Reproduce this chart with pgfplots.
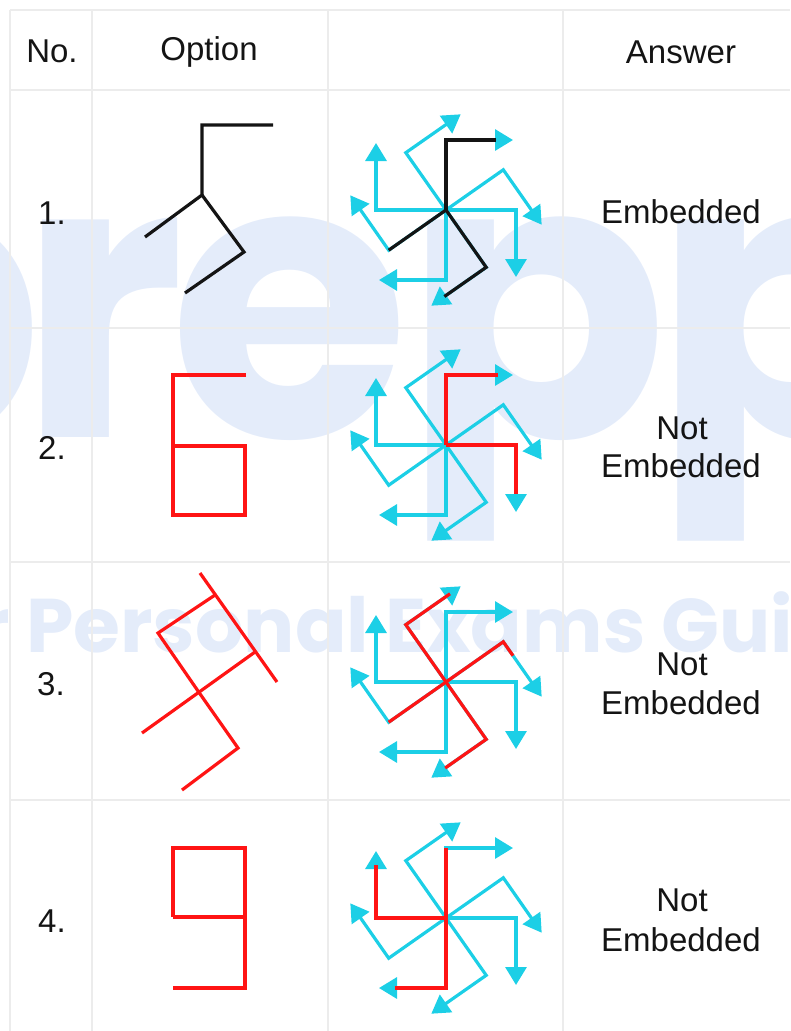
\documentclass[border=0pt]{standalone}
\usepackage{pgfplots}
\pgfplotsset{compat=1.18}
\usepackage{fontspec}
\setmainfont{Liberation Sans}
\newfontfamily\wmfont{Poppins}
\usetikzlibrary{arrows.meta}
\definecolor{cy}{HTML}{1CCFE6}
\definecolor{rd}{HTML}{FF1414}
\definecolor{bk}{HTML}{141414}
\definecolor{wm}{HTML}{E4ECFA}
\definecolor{gl}{HTML}{ECECEC}
\begin{document}
\begin{tikzpicture}
\begin{axis}[
  scale only axis, width=790pt, height=1031pt,
  xmin=0, xmax=790, ymin=0, ymax=1031, y dir=reverse,
  axis lines=none, xtick=\empty, ytick=\empty, clip=true,
  every axis plot/.append style={line width=3.2pt, line join=miter, mark=none},
  arr/.style={-{Triangle[length=18pt,width=21pt]}},
]
% full-size frame (invisible)
\path (axis cs:0,0) rectangle (axis cs:790,1031);
% watermark
\node[wm, font=\wmfont\bfseries\fontsize{390}{400}\selectfont, anchor=base west, inner sep=0pt] at (axis cs:-222,437) {p};
\node[wm, font=\wmfont\bfseries\fontsize{390}{400}\selectfont, anchor=base west, inner sep=0pt] at (axis cs:18,437) {r};
\node[wm, font=\wmfont\bfseries\fontsize{390}{400}\selectfont, anchor=base west, inner sep=0pt] at (axis cs:169,437) {e};
\node[wm, font=\wmfont\bfseries\fontsize{390}{400}\selectfont, anchor=base west, inner sep=0pt] at (axis cs:403,437) {p};
\node[wm, font=\wmfont\bfseries\fontsize{390}{400}\selectfont, anchor=base west, inner sep=0pt] at (axis cs:653,437) {p};
\node[wm, font=\wmfont\bfseries\fontsize{76}{80}\selectfont, anchor=base east, inner sep=0pt] at (axis cs:10,652) {Your};
\node[wm, font=\wmfont\bfseries\fontsize{76}{80}\selectfont, anchor=base west, inner sep=0pt] at (axis cs:26,652) {Personal Exams Guide};
% grid lines
\draw[gl, line width=1.3pt] (axis cs:10,10) -- (axis cs:790,10);
\draw[gl, line width=1.3pt] (axis cs:10,90) -- (axis cs:790,90);
\draw[gl, line width=1.3pt] (axis cs:10,328) -- (axis cs:790,328);
\draw[gl, line width=1.3pt] (axis cs:10,562) -- (axis cs:790,562);
\draw[gl, line width=1.3pt] (axis cs:10,800) -- (axis cs:790,800);
\draw[gl, line width=1.3pt] (axis cs:10,10) -- (axis cs:10,1031);
\draw[gl, line width=1.3pt] (axis cs:92,10) -- (axis cs:92,1031);
\draw[gl, line width=1.3pt] (axis cs:328,10) -- (axis cs:328,1031);
\draw[gl, line width=1.3pt] (axis cs:563,10) -- (axis cs:563,1031);
% header text
\node[bk, font=\fontsize{33}{40}\selectfont, anchor=base] at (axis cs:52,62) {No.};
\node[bk, font=\fontsize{33}{40}\selectfont, anchor=base] at (axis cs:209,60) {Option};
\node[bk, font=\fontsize{33}{40}\selectfont, anchor=base] at (axis cs:681,63) {Answer};
% row numbers
\node[bk, font=\fontsize{33}{40}\selectfont, anchor=base] at (axis cs:52,224) {1.};
\node[bk, font=\fontsize{33}{40}\selectfont, anchor=base] at (axis cs:52,459) {2.};
\node[bk, font=\fontsize{33}{40}\selectfont, anchor=base] at (axis cs:51,695) {3.};
\node[bk, font=\fontsize{33}{40}\selectfont, anchor=base] at (axis cs:52,932) {4.};
% answers
\node[bk, font=\fontsize{33}{40}\selectfont, anchor=base] at (axis cs:681,223) {Embedded};
\node[bk, font=\fontsize{33}{40}\selectfont, anchor=base] at (axis cs:682,439) {Not};
\node[bk, font=\fontsize{33}{40}\selectfont, anchor=base] at (axis cs:681,477) {Embedded};
\node[bk, font=\fontsize{33}{40}\selectfont, anchor=base] at (axis cs:682,675) {Not};
\node[bk, font=\fontsize{33}{40}\selectfont, anchor=base] at (axis cs:681,714) {Embedded};
\node[bk, font=\fontsize{33}{40}\selectfont, anchor=base] at (axis cs:682,911) {Not};
\node[bk, font=\fontsize{33}{40}\selectfont, anchor=base] at (axis cs:681,951) {Embedded};
% ---------- options ----------
\addplot[bk] coordinates {(273,125) (202,125) (202,195) (145,237)};
\addplot[bk] coordinates {(202,195) (244,252) (185,293)};
\addplot[rd] coordinates {(246,375) (173,375) (173,515) (245,515) (245,446) (173,446)};
\addplot[rd] coordinates {(200,573) (277,682)};
\addplot[rd] coordinates {(215,595) (158,633) (198,691) (238,748) (182,790)};
\addplot[rd] coordinates {(255,652) (142,733)};
\addplot[rd] coordinates {(173,917) (173,848) (245,848) (245,988) (173,988)};
\addplot[rd] coordinates {(173,917) (245,917)};
% ---------- pinwheel row 1 ----------
\addplot[cy,arr] coordinates {(446,210) (446,140) (513,140)};
\addplot[cy,arr] coordinates {(446,210) (516,210) (516,277)};
\addplot[cy,arr] coordinates {(446,210) (446,280) (379,280)};
\addplot[cy,arr] coordinates {(446,210) (376,210) (376,143)};
\addplot[cy,arr] coordinates {(446,210) (405.8,152.7) (460.7,114.3)};
\addplot[cy,arr] coordinates {(446,210) (503.3,169.8) (541.7,224.7)};
\addplot[cy,arr] coordinates {(446,210) (486.2,267.3) (431.3,305.7)};
\addplot[cy,arr] coordinates {(446,210) (388.7,250.2) (350.3,195.3)};
\addplot[bk] coordinates {(446,210) (446,140) (496,140)};
\addplot[bk] coordinates {(446,210) (388.7,250.2)};
\addplot[bk] coordinates {(446,210) (486.2,267.3) (444.4,296.5)};
% ---------- pinwheel row 2 ----------
\addplot[cy,arr] coordinates {(446,445) (446,375) (513,375)};
\addplot[cy,arr] coordinates {(446,445) (516,445) (516,512)};
\addplot[cy,arr] coordinates {(446,445) (446,515) (379,515)};
\addplot[cy,arr] coordinates {(446,445) (376,445) (376,378)};
\addplot[cy,arr] coordinates {(446,445) (405.8,387.7) (460.7,349.3)};
\addplot[cy,arr] coordinates {(446,445) (503.3,404.8) (541.7,459.7)};
\addplot[cy,arr] coordinates {(446,445) (486.2,502.3) (431.3,540.7)};
\addplot[cy,arr] coordinates {(446,445) (388.7,485.2) (350.3,430.3)};
\addplot[rd] coordinates {(446,445) (446,375) (498,375)};
\addplot[rd] coordinates {(446,445) (516,445) (516,494)};
% ---------- pinwheel row 3 ----------
\addplot[cy,arr] coordinates {(446,682) (446,612) (513,612)};
\addplot[cy,arr] coordinates {(446,682) (516,682) (516,749)};
\addplot[cy,arr] coordinates {(446,682) (446,752) (379,752)};
\addplot[cy,arr] coordinates {(446,682) (376,682) (376,615)};
\addplot[cy,arr] coordinates {(446,682) (405.8,624.7) (460.7,586.3)};
\addplot[cy,arr] coordinates {(446,682) (503.3,641.8) (541.7,696.7)};
\addplot[cy,arr] coordinates {(446,682) (486.2,739.3) (431.3,777.7)};
\addplot[cy,arr] coordinates {(446,682) (388.7,722.2) (350.3,667.3)};
\addplot[rd] coordinates {(446,682) (405.8,624.7) (450,593.8)};
\addplot[rd] coordinates {(446,682) (486.2,739.3) (445.2,768)};
\addplot[rd] coordinates {(446,682) (388.7,722.2)};
\addplot[rd] coordinates {(446,682) (503.3,641.8) (513,655.7)};
% ---------- pinwheel row 4 ----------
\addplot[cy,arr] coordinates {(446,918) (446,848) (513,848)};
\addplot[cy,arr] coordinates {(446,918) (516,918) (516,985)};
\addplot[cy,arr] coordinates {(446,918) (446,988) (379,988)};
\addplot[cy,arr] coordinates {(446,918) (376,918) (376,851)};
\addplot[cy,arr] coordinates {(446,918) (405.8,860.7) (460.7,822.3)};
\addplot[cy,arr] coordinates {(446,918) (503.3,877.8) (541.7,932.7)};
\addplot[cy,arr] coordinates {(446,918) (486.2,975.3) (431.3,1013.7)};
\addplot[cy,arr] coordinates {(446,918) (388.7,958.2) (350.3,903.3)};
\addplot[rd] coordinates {(446,918) (446,848)};
\addplot[rd] coordinates {(446,918) (376,918) (376,865)};
\addplot[rd] coordinates {(446,918) (446,988) (395,988)};
\end{axis}
\end{tikzpicture}
\end{document}
